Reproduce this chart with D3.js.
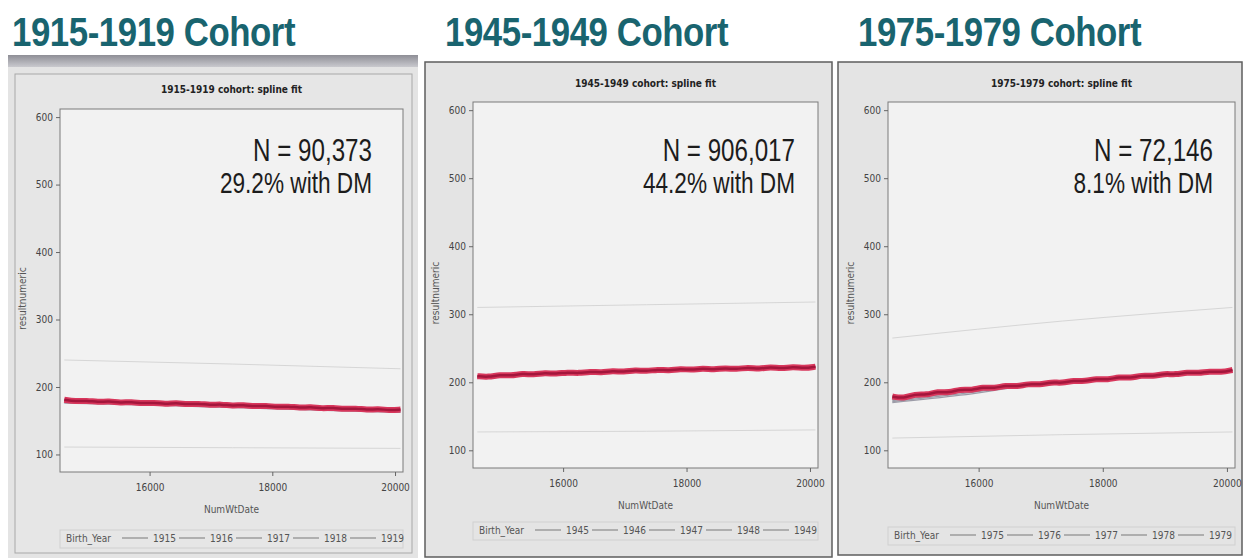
<!DOCTYPE html>
<html>
<head>
<meta charset="utf-8">
<script src="https://cdn.jsdelivr.net/npm/d3@7"></script>
<style>
  body { margin: 0; background: #fff; }
  svg { display: block; }
</style>
</head>
<body>
<div id="d3-container"></div>
<script>
// values
const cohortTitles = ["1915-1919 Cohort", "1945-1949 Cohort", "1975-1979 Cohort"];
const plotTitles = ["1915-1919 cohort: spline fit", "1945-1949 cohort: spline fit", "1975-1979 cohort: spline fit"];
const sampleSizes = ["N = 90,373", "N = 906,017", "N = 72,146"];
const dmShares = ["29.2% with DM", "44.2% with DM", "8.1% with DM"];
const birthYears = [
  ["1915", "1916", "1917", "1918", "1919"],
  ["1945", "1946", "1947", "1948", "1949"],
  ["1975", "1976", "1977", "1978", "1979"]
];
const yTicks = [100, 200, 300, 400, 500, 600];
const xTicks = [16000, 18000, 20000];
const xDomain = [14540, 20130];
const yDomain = [74, 612];

// SAS dates, 1 Jan / 1 Jul 2000 .. 1 Jan 2015
const fitDates = [14610, 14792, 14976, 15157, 15341, 15522, 15706, 15887, 16071, 16253, 16437, 16618, 16802, 16983, 17167, 17348,
  17532, 17714, 17898, 18079, 18263, 18444, 18628, 18809, 18993, 19175, 19359, 19540, 19724, 19905, 20089];
const fit1519 = [181, 178.5, 180, 177.5, 179, 176.5, 178, 175.5, 177, 174.5, 176.5, 174, 175.5, 173, 174.5, 172,
  173.5, 171, 172.5, 170, 171.5, 169, 170.5, 168, 169.5, 167, 168.5, 166, 167.5, 165.5, 166.5];
const fit4549 = [209, 207.5, 211, 209.5, 213, 211, 214, 212, 215, 213, 216, 214, 217, 215, 218, 216,
  219, 217, 220, 218, 220.5, 218.5, 221, 219, 222, 219.5, 222.5, 220, 223, 220.5, 223];
const fit7579 = [179, 176, 183, 181, 186.5, 184.5, 190, 188, 193, 191, 195.5, 193.5, 198, 196, 200.5, 198.5,
  203, 201, 205.5, 203.5, 208, 206, 210.5, 208.5, 213, 211, 215, 213, 216.5, 214.5, 218];

// per birth-year curves (mostly hidden under the red fit), 2000/03/06/09/12/15
const groupDates = [14610, 15706, 16802, 17898, 18993, 20089];
const groups1519 = [
  [176, 174, 171, 168, 165, 162.5],
  [177.5, 175, 172, 169, 166, 163.5],
  [178.5, 176, 173, 170, 167, 164.5],
  [179.5, 177, 174, 171, 168, 165.5],
  [180.5, 177.5, 174.5, 171.5, 168.5, 166]
];
const groups4549 = [
  [207, 211.5, 215, 218, 220, 221],
  [207.5, 212, 215.5, 218.5, 220.5, 221.5],
  [208, 212.5, 216, 219, 221, 222],
  [208.5, 213, 216.5, 219.5, 221.5, 222.5],
  [209, 213.5, 217, 220, 222, 223]
];
const groups7579 = [
  [170, 181, 195, 204, 211.5, 216.5],
  [171.5, 183, 196, 204.5, 212, 217],
  [173, 185, 196.5, 205, 212, 217],
  [175, 187, 197, 205, 212.5, 217.5],
  [177, 188.5, 197.5, 205.5, 212.5, 218]
];

// faint outer curves
const bandDates = [14610, 17350, 20089];
const upper1519 = [240, 234, 227];
const lower1519 = [111, 110, 109];
const upper4549 = [310, 314, 318];
const lower4549 = [127, 128, 130];
const upper7579 = [265, 290, 310];
const lower7579 = [118, 123, 127];

const fits = [fit1519, fit4549, fit7579];
const groupSets = [groups1519, groups4549, groups7579];
const uppers = [upper1519, upper4549, upper7579];
const lowers = [lower1519, lower4549, lower7579];

// where each photo sits on the slide
const layout = [
  { frame: [8, 55, 410, 503], plot: [60, 109, 343, 363], headX: 12, titleY: 93, legendDy: 70, annoDx: 31 },
  { frame: [425, 62, 407, 495], plot: [473, 102, 345, 366], headX: 445, titleY: 87, legendDy: 66, annoDx: 23 },
  { frame: [838, 62, 404, 493], plot: [888, 102, 347, 366], headX: 858, titleY: 87, legendDy: 71, annoDx: 22 }
];

const smallFont = '"Liberation Sans Narrow", "DejaVu Sans Condensed", "Arial Narrow", sans-serif';

let svg = d3.select('#d3-container')
  .append('svg')
  .attr('width', 1246)
  .attr('height', 558)
  .style('background-color', 'white');

// slide headings
svg.selectAll('.heading')
  .data(cohortTitles)
  .join('text')
  .attr('class', 'heading')
  .attr('transform', (d, i) => `translate(${layout[i].headX},46) scale(0.87,1)`)
  .attr('font-family', '"Liberation Sans", Arial, sans-serif')
  .attr('font-weight', 'bold')
  .attr('font-size', 40)
  .attr('letter-spacing', -0.5)
  .attr('fill', '#19646f')
  .text(d => d);

let defs = svg.append('defs');
let grad = defs.append('linearGradient')
  .attr('id', 'bezel')
  .attr('x1', 0).attr('y1', 0).attr('x2', 0).attr('y2', 1);
grad.append('stop').attr('offset', '0%').attr('stop-color', '#8e8e96');
grad.append('stop').attr('offset', '100%').attr('stop-color', '#c9c9ce');

layout.forEach((L, i) => {
  const [fx, fy, fw, fh] = L.frame;
  const [px, py, pw, ph] = L.plot;
  let g = svg.append('g');

  // photographed window
  g.append('rect')
    .attr('x', fx).attr('y', fy).attr('width', fw).attr('height', fh)
    .attr('fill', '#e4e4e4')
    .attr('stroke', i == 0 ? 'none' : '#5e5e5e')
    .attr('stroke-width', 1.5);

  if (i == 0) {
    g.append('rect')
      .attr('x', fx).attr('y', fy).attr('width', fw).attr('height', 12)
      .attr('fill', 'url(#bezel)');
    g.append('rect')
      .attr('x', fx + 7).attr('y', fy + 19).attr('width', fw - 13).attr('height', fh - 24)
      .attr('fill', '#e6e6e6')
      .attr('stroke', '#a8a8a8');
  }

  g.append('rect')
    .attr('x', px).attr('y', py).attr('width', pw).attr('height', ph)
    .attr('fill', '#f2f2f2')
    .attr('stroke', '#7a7a7a');

  const x = d3.scaleLinear().domain(xDomain).range([px, px + pw]);
  const y = d3.scaleLinear().domain(yDomain).range([py + ph, py]);

  // Adding the Y axis
  let ya = g.append('g')
    .attr('transform', `translate(${px},0)`)
    .call(d3.axisLeft(y).tickValues(yTicks).tickSize(4).tickPadding(3));
  ya.select('.domain').remove();
  ya.selectAll('line').attr('stroke', '#666');
  ya.selectAll('text')
    .attr('font-family', smallFont).attr('font-size', 10).attr('fill', '#444');

  // Adding the X axis
  let xa = g.append('g')
    .attr('transform', `translate(0,${py + ph})`)
    .call(d3.axisBottom(x).tickValues(xTicks).tickFormat(d3.format('d')).tickSize(4).tickPadding(8));
  xa.select('.domain').remove();
  xa.selectAll('line').attr('stroke', '#666');
  xa.selectAll('text')
    .attr('font-family', smallFont).attr('font-size', 10).attr('fill', '#444');

  defs.append('clipPath').attr('id', 'clip' + i)
    .append('rect').attr('x', px).attr('y', py).attr('width', pw).attr('height', ph);
  let lines = g.append('g').attr('clip-path', `url(#clip${i})`);

  const bandLine = d3.line()
    .x((d, j) => x(bandDates[j]))
    .y(d => y(d))
    .curve(d3.curveMonotoneX);
  lines.selectAll('.band')
    .data([uppers[i], lowers[i]])
    .join('path')
    .attr('class', 'band')
    .attr('d', bandLine)
    .attr('fill', 'none')
    .attr('stroke', '#d6d6d6')
    .attr('stroke-width', 1);

  const groupLine = d3.line()
    .x((d, j) => x(groupDates[j]))
    .y(d => y(d))
    .curve(d3.curveMonotoneX);
  lines.selectAll('.grp')
    .data(groupSets[i])
    .join('path')
    .attr('class', 'grp')
    .attr('d', groupLine)
    .attr('fill', 'none')
    .attr('stroke', '#9c9ca8')
    .attr('stroke-width', 1.2);

  // the red spline fit, a thick rope with a darker core
  const fitLine = d3.line()
    .x((d, j) => x(fitDates[j]))
    .y(d => y(d))
    .curve(d3.curveBasis);
  lines.append('path')
    .datum(fits[i])
    .attr('d', fitLine)
    .attr('fill', 'none')
    .attr('stroke', '#d8375c')
    .attr('stroke-width', 6);
  lines.append('path')
    .datum(fits[i])
    .attr('d', fitLine)
    .attr('fill', 'none')
    .attr('stroke', '#a3163c')
    .attr('stroke-width', 2.5);

  // plot title
  g.append('text')
    .attr('x', px + pw / 2)
    .attr('y', L.titleY)
    .attr('text-anchor', 'middle')
    .attr('font-family', smallFont)
    .attr('font-weight', 'bold')
    .attr('font-size', 10)
    .attr('fill', '#222')
    .text(plotTitles[i]);

  // N and DM annotation
  let anno = g.append('g')
    .attr('transform', `translate(${px + pw - L.annoDx},0)`);
  anno.append('text')
    .attr('transform', 'translate(0,161) scale(0.78,1)')
    .attr('text-anchor', 'end')
    .attr('font-family', '"Liberation Sans", Arial, sans-serif')
    .attr('font-size', 31)
    .attr('fill', '#1c1c1c')
    .text(sampleSizes[i]);
  anno.append('text')
    .attr('transform', 'translate(0,193) scale(0.78,1)')
    .attr('text-anchor', 'end')
    .attr('font-family', '"Liberation Sans", Arial, sans-serif')
    .attr('font-size', 29)
    .attr('fill', '#1c1c1c')
    .text(dmShares[i]);

  //adding the x label
  g.append('text')
    .attr('x', px + pw / 2)
    .attr('y', py + ph + 41)
    .attr('text-anchor', 'middle')
    .attr('font-family', smallFont)
    .attr('font-size', 10)
    .attr('fill', '#555')
    .text('NumWtDate');

  //adding the y label
  g.append('text')
    .attr('transform', `translate(${px - 34},${py + ph / 2 + 8}) rotate(-90)`)
    .attr('text-anchor', 'middle')
    .attr('font-family', smallFont)
    .attr('font-size', 10)
    .attr('fill', '#555')
    .text('resultnumeric');

  // legend
  const ly = py + ph + L.legendDy;
  g.append('rect')
    .attr('x', px).attr('y', ly - 12).attr('width', pw).attr('height', 18)
    .attr('fill', 'none')
    .attr('stroke', '#d0d0d0');
  g.append('text')
    .attr('x', px + 6)
    .attr('y', ly)
    .attr('font-family', smallFont)
    .attr('font-size', 10)
    .attr('fill', '#555')
    .text('Birth_Year');
  let items = g.selectAll('.leg')
    .data(birthYears[i])
    .join('g')
    .attr('class', 'leg')
    .attr('transform', (d, j) => `translate(${px + 62 + j * 57},${ly})`);
  items.append('line')
    .attr('x1', 0).attr('x2', 26)
    .attr('y1', -4).attr('y2', -4)
    .attr('stroke', '#8a8a8a')
    .attr('stroke-width', 1.2);
  items.append('text')
    .attr('x', 31)
    .attr('font-family', smallFont)
    .attr('font-size', 10)
    .attr('fill', '#555')
    .text(d => d);
});
</script>
</body>
</html>
